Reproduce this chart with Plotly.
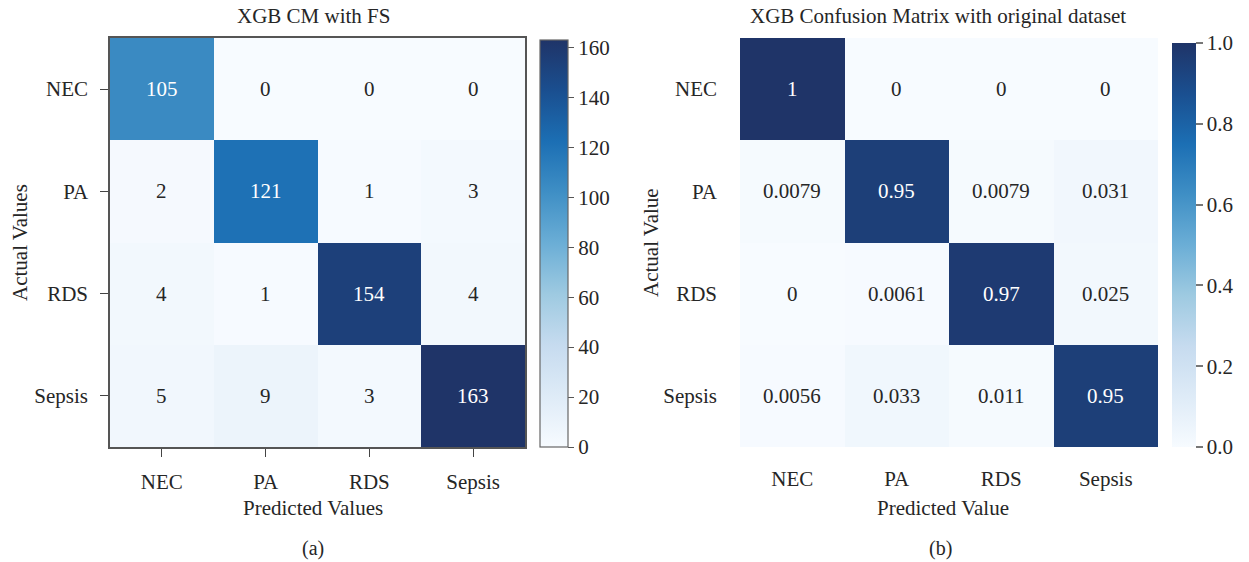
import plotly.graph_objects as go

labels = ["NEC", "PA", "RDS", "Sepsis"]
cm_fs = [
    [105, 0, 0, 0],
    [2, 121, 1, 3],
    [4, 1, 154, 4],
    [5, 9, 3, 163],
]
cm_orig = [
    [1, 0, 0, 0],
    [0.0079, 0.95, 0.0079, 0.031],
    [0, 0.0061, 0.97, 0.025],
    [0.0056, 0.033, 0.011, 0.95],
]
cb_ticks_fs = [0, 20, 40, 60, 80, 100, 120, 140, 160]
cb_ticks_orig = [0.0, 0.2, 0.4, 0.6, 0.8, 1.0]

W, H = 1249, 562
FONT = "Liberation Serif"
TXT = "#262626"
FS = 21

blues = [
    [0.0, "#f7fbff"], [0.125, "#deebf7"], [0.25, "#c6dbef"], [0.375, "#9ecae1"],
    [0.5, "#6baed6"], [0.625, "#3f8fc5"], [0.75, "#1c6fb4"], [0.875, "#1a4f90"],
    [1.0, "#1f3468"],
]

def px(x):
    return x / W

def py(y):
    return 1 - y / H

fig = go.Figure()

zmax_fs = max(max(r) for r in cm_fs)
fig.add_trace(go.Heatmap(
    z=cm_fs, x=labels, y=labels, xaxis="x", yaxis="y",
    colorscale=blues, zmin=0, zmax=zmax_fs, xgap=0, ygap=0,
    hoverinfo="skip",
    colorbar=dict(
        x=px(540), xanchor="left", y=py(243.5), yanchor="middle",
        len=407 / H, lenmode="fraction", thickness=28, thicknessmode="pixels",
        outlinewidth=1.2, outlinecolor="#666666",
        tickvals=cb_ticks_fs, ticks="outside", ticklen=6, tickcolor="#555555",
        tickfont=dict(family=FONT, size=FS, color=TXT), xpad=0, ypad=0,
    ),
))

fig.add_trace(go.Heatmap(
    z=cm_orig, x=labels, y=labels, xaxis="x2", yaxis="y2",
    colorscale=blues, zmin=0, zmax=1, xgap=0, ygap=0,
    hoverinfo="skip",
    colorbar=dict(
        x=px(1172), xanchor="left", y=py(245), yanchor="middle",
        len=404 / H, lenmode="fraction", thickness=24, thicknessmode="pixels",
        outlinewidth=0,
        tickvals=cb_ticks_orig, tickformat=".1f", ticks="outside", ticklen=7,
        tickcolor="#777777", tickwidth=2,
        tickfont=dict(family=FONT, size=FS, color=TXT), xpad=0, ypad=0,
    ),
))

annotations = []
for i, row in enumerate(cm_fs):
    for j, v in enumerate(row):
        annotations.append(dict(
            x=labels[j], y=labels[i], xref="x", yref="y", text=str(v),
            showarrow=False,
            font=dict(family=FONT, size=FS, color="white" if v / zmax_fs > 0.5 else TXT),
        ))
for i, row in enumerate(cm_orig):
    for j, v in enumerate(row):
        annotations.append(dict(
            x=labels[j], y=labels[i], xref="x2", yref="y2", text=format(v, ".2g"),
            showarrow=False,
            font=dict(family=FONT, size=FS, color="white" if v > 0.5 else TXT),
        ))

def txt(x, y, s, size=FS, angle=0):
    return dict(x=px(x), y=py(y), xref="paper", yref="paper", text=s,
                showarrow=False, textangle=angle, xanchor="center", yanchor="middle",
                font=dict(family=FONT, size=size, color=TXT))

annotations += [
    txt(313, 16, "XGB CM with FS", 21),
    txt(938, 16, "XGB Confusion Matrix with original dataset", 21),
    txt(313, 508, "Predicted Values", FS),
    txt(943, 508, "Predicted Value", FS),
    txt(20, 243, "Actual Values", FS, -90),
    txt(651, 243, "Actual Value", FS, -90),
    txt(313, 548, "(a)", 20),
    txt(940, 548, "(b)", 20),
]

axfont = dict(family=FONT, size=FS, color=TXT)
fig.update_layout(
    width=W, height=H, margin=dict(l=0, r=0, t=0, b=0),
    paper_bgcolor="white", plot_bgcolor="white",
    annotations=annotations,
    xaxis=dict(domain=[px(110), px(525)], anchor="y", showgrid=False, zeroline=False,
               ticks="outside", ticklen=8, tickcolor="#444444", tickfont=axfont,
               showline=True, linecolor="#555555", linewidth=1.5, mirror=True,
               ticklabelstandoff=7),
    yaxis=dict(domain=[py(447), py(38)], anchor="x", showgrid=False, zeroline=False,
               autorange="reversed", ticks="outside", ticklen=8, tickcolor="#444444",
               tickfont=axfont, showline=True, linecolor="#555555", linewidth=1.5,
               mirror=True, ticklabelstandoff=8),
    xaxis2=dict(domain=[px(740), px(1158)], anchor="y2", showgrid=False, zeroline=False,
                ticks="", tickfont=axfont, showline=False, ticklabelstandoff=17),
    yaxis2=dict(domain=[py(447), py(38)], anchor="x2", showgrid=False, zeroline=False,
                autorange="reversed", ticks="", tickfont=axfont, showline=False,
                ticklabelstandoff=22),
)

fig.write_html(
    "out.html",
    config={"displayModeBar": False},
    post_script="document.body.style.margin='0';document.body.style.overflow='hidden';",
)
